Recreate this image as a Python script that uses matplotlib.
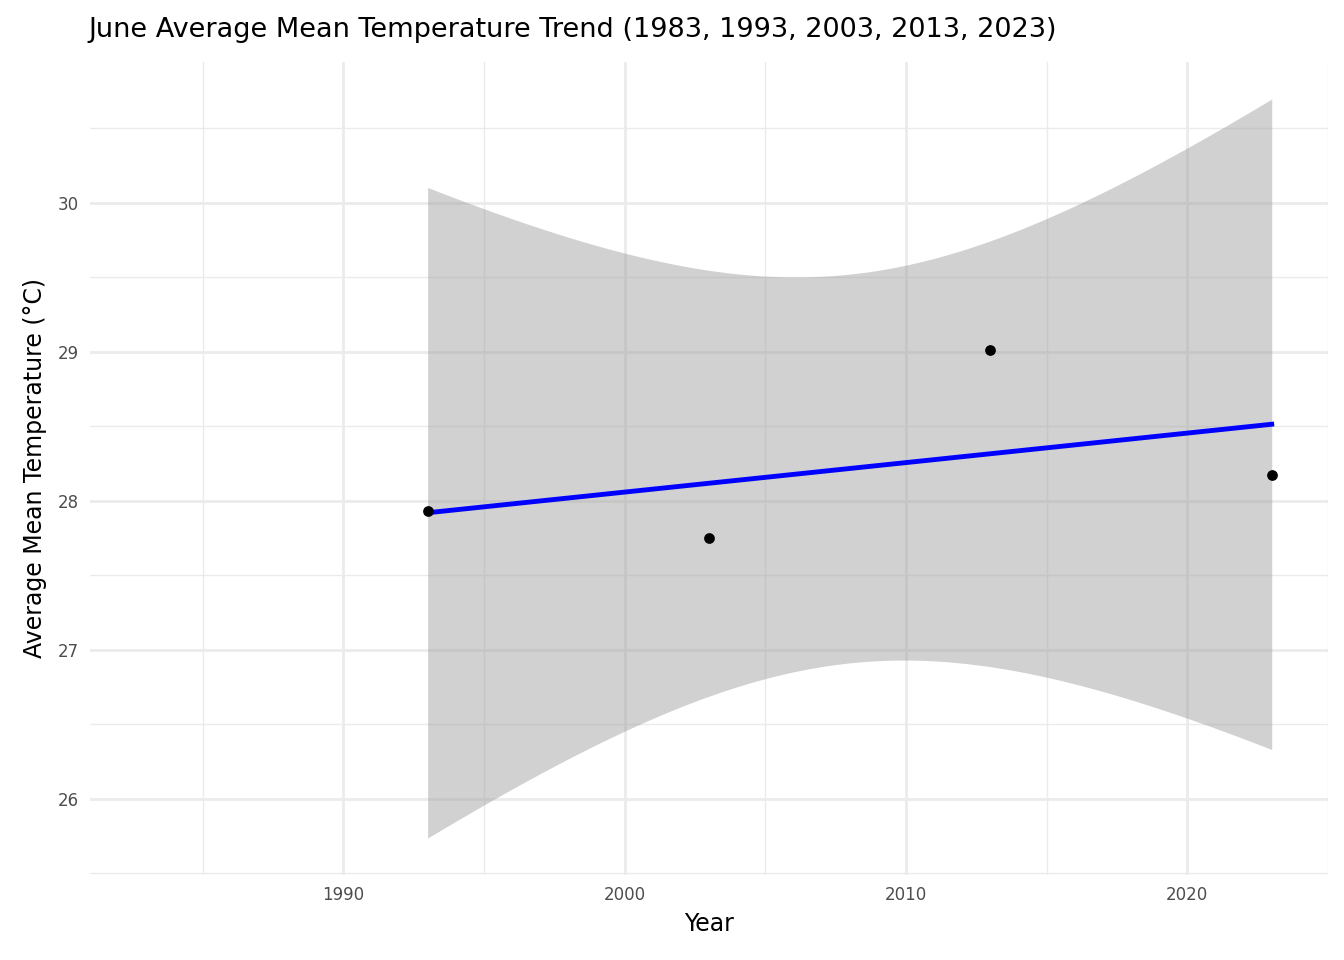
import numpy as np
import matplotlib.pyplot as plt

years = np.array([1983, 1993, 2003, 2013, 2023])
temps = np.array([np.nan, 27.93, 27.75, 29.01, 28.17])

mask = ~np.isnan(temps)
x = years[mask]
y = temps[mask]

# linear fit with 95% confidence band (like geom_smooth(method="lm"))
n = len(x)
b, a = np.polyfit(x, y, 1)
resid = y - (a + b * x)
s = np.sqrt(np.sum(resid ** 2) / (n - 2))
t_crit = 4.302653  # t(0.975, df=2)
xs = np.linspace(x.min(), x.max(), 200)
fit = a + b * xs
se = s * np.sqrt(1 / n + (xs - x.mean()) ** 2 / np.sum((x - x.mean()) ** 2))
lo, hi = fit - t_crit * se, fit + t_crit * se

fig = plt.figure(figsize=(13.44, 9.6), dpi=100)
ax = fig.add_axes([90 / 1344, 1 - 875 / 960, (1328 - 90) / 1344, (875 - 62) / 960])

ax.fill_between(xs, lo, hi, color="#999999", alpha=0.45, linewidth=0, zorder=2)
ax.plot(xs, fit, color="blue", linewidth=3.5, zorder=3)
ax.scatter(x, y, color="black", s=45, zorder=4)

xr = years.max() - years.min()
ax.set_xlim(years.min() - 0.05 * xr, years.max() + 0.05 * xr)
ymin, ymax = lo.min(), hi.max()
yr = ymax - ymin
ax.set_ylim(ymin - 0.05 * yr, ymax + 0.05 * yr)

ax.set_xticks([1990, 2000, 2010, 2020])
ax.set_xticks([1985, 1995, 2005, 2015, 2025], minor=True)
ax.set_yticks([26, 27, 28, 29, 30])
ax.set_yticks([25.5, 26.5, 27.5, 28.5, 29.5, 30.5], minor=True)
ax.grid(which="major", color="#EBEBEB", linewidth=2, zorder=0)
ax.grid(which="minor", color="#EBEBEB", linewidth=1, zorder=0)
ax.set_axisbelow(True)
for sp in ax.spines.values():
    sp.set_visible(False)
ax.tick_params(which="both", length=0, labelsize=12, colors="#4D4D4D", pad=8)

ax.set_xlabel("Year", fontsize=17, labelpad=6)
ax.set_ylabel("Average Mean Temperature (°C)", fontsize=17, labelpad=8)
fig.text(88 / 1344, 1 - 30 / 960, "June Average Mean Temperature Trend (1983, 1993, 2003, 2013, 2023)",
         fontsize=19.5, ha="left", va="center")

fig.savefig("out.png", dpi=100)
